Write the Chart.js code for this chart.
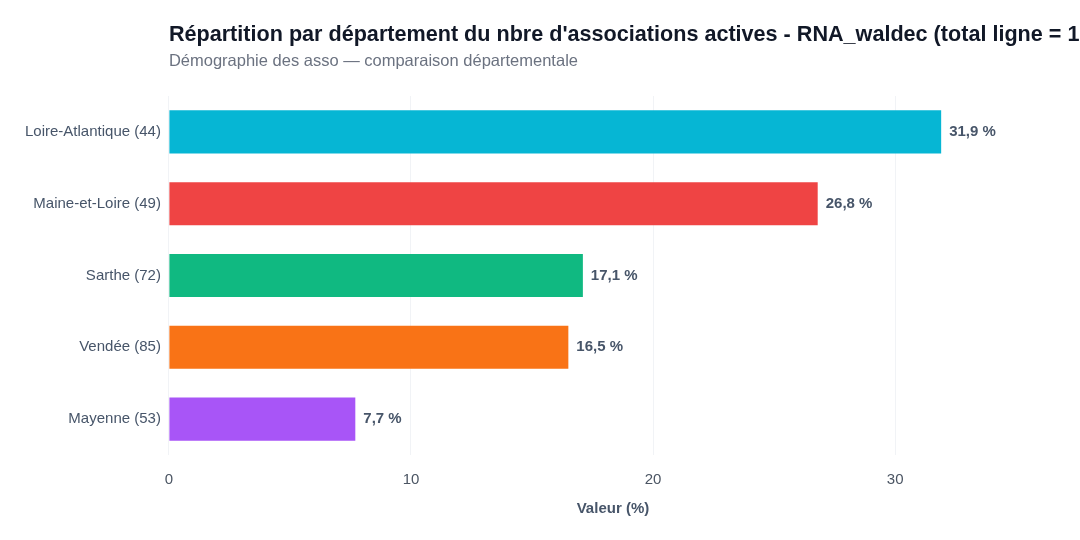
<!DOCTYPE html>
<html>
<head>
<meta charset="utf-8">
<script src="https://cdn.jsdelivr.net/npm/chart.js@4/dist/chart.umd.min.js"></script>
<style>
  html, body { margin: 0; padding: 0; background: #ffffff; }
  #wrap { width: 1080px; height: 540px; position: relative; }
</style>
</head>
<body>
<div id="wrap"><canvas id="deptChart"></canvas></div>
<script>
const titleText = "Répartition par département du nbre d'associations actives - RNA_waldec (total ligne = 100 %)";
const subtitleText = "Démographie des asso — comparaison départementale";

const departements = [
    'Loire-Atlantique (44)',
    'Maine-et-Loire (49)',
    'Sarthe (72)',
    'Vendée (85)',
    'Mayenne (53)'
];
const valeurs = [31.9, 26.8, 17.1, 16.5, 7.7];
const couleurs = ['#06b6d4', '#ef4444', '#10b981', '#f97316', '#a855f7'];
const xTicks = [0, 10, 20, 30];

const FONT = "'Liberation Sans', Arial, Helvetica, sans-serif";

// titre + sous-titre alignes sur la zone du graphique
const headerPlugin = {
    id: 'header',
    afterDraw(chart) {
        const ctx = chart.ctx;
        const left = chart.chartArea.left;
        ctx.save();
        ctx.textAlign = 'left';
        ctx.textBaseline = 'alphabetic';
        ctx.fillStyle = '#111827';
        ctx.font = 'bold 21.6px ' + FONT;
        ctx.fillText(titleText, left, 41);
        ctx.fillStyle = '#6b7280';
        ctx.font = '16.5px ' + FONT;
        ctx.fillText(subtitleText, left, 66);
        ctx.restore();
    }
};

// etiquettes de valeur au bout des barres
const valueLabels = {
    id: 'valueLabels',
    afterDatasetsDraw(chart) {
        const ctx = chart.ctx;
        const meta = chart.getDatasetMeta(0);
        ctx.save();
        ctx.font = 'bold 15px ' + FONT;
        ctx.fillStyle = '#475569';
        ctx.textAlign = 'left';
        ctx.textBaseline = 'middle';
        meta.data.forEach(function (bar, i) {
            const txt = valeurs[i].toFixed(1).replace('.', ',') + ' %';
            ctx.fillText(txt, bar.x + 8, bar.y);
        });
        ctx.restore();
    }
};

const ctxDept = document.getElementById('deptChart');

const deptChart = new Chart(ctxDept, {
    type: 'bar',
    data: {
        labels: departements,
        datasets: [{
            label: 'Valeur (%)',
            data: valeurs,
            backgroundColor: couleurs,
            borderWidth: 0,
            barPercentage: 0.6,
            categoryPercentage: 1
        }]
    },
    options: {
        indexAxis: 'y',
        responsive: true,
        maintainAspectRatio: false,
        animation: false,
        layout: {
            padding: { top: 96, right: 23, bottom: 18, left: 17 }
        },
        plugins: {
            legend: { display: false },
            title: { display: false },
            tooltip: { enabled: false }
        },
        scales: {
            x: {
                min: 0,
                max: Math.max(...valeurs) * 1.15,
                afterBuildTicks(axis) {
                    axis.ticks = xTicks.map(v => ({ value: v }));
                },
                border: { display: false },
                grid: {
                    color: '#f1f3f6',
                    lineWidth: 1,
                    drawTicks: false
                },
                ticks: {
                    color: '#4b5563',
                    padding: 16,
                    font: { family: FONT, size: 15 }
                },
                title: {
                    display: true,
                    text: 'Valeur (%)',
                    color: '#475569',
                    padding: { top: -5, bottom: 4 },
                    font: { family: FONT, size: 15, weight: 'bold' }
                }
            },
            y: {
                border: { display: false },
                grid: { display: false, drawTicks: false },
                ticks: {
                    color: '#475569',
                    padding: 8,
                    font: { family: FONT, size: 15 }
                }
            }
        }
    },
    plugins: [headerPlugin, valueLabels]
});
</script>
</body>
</html>
